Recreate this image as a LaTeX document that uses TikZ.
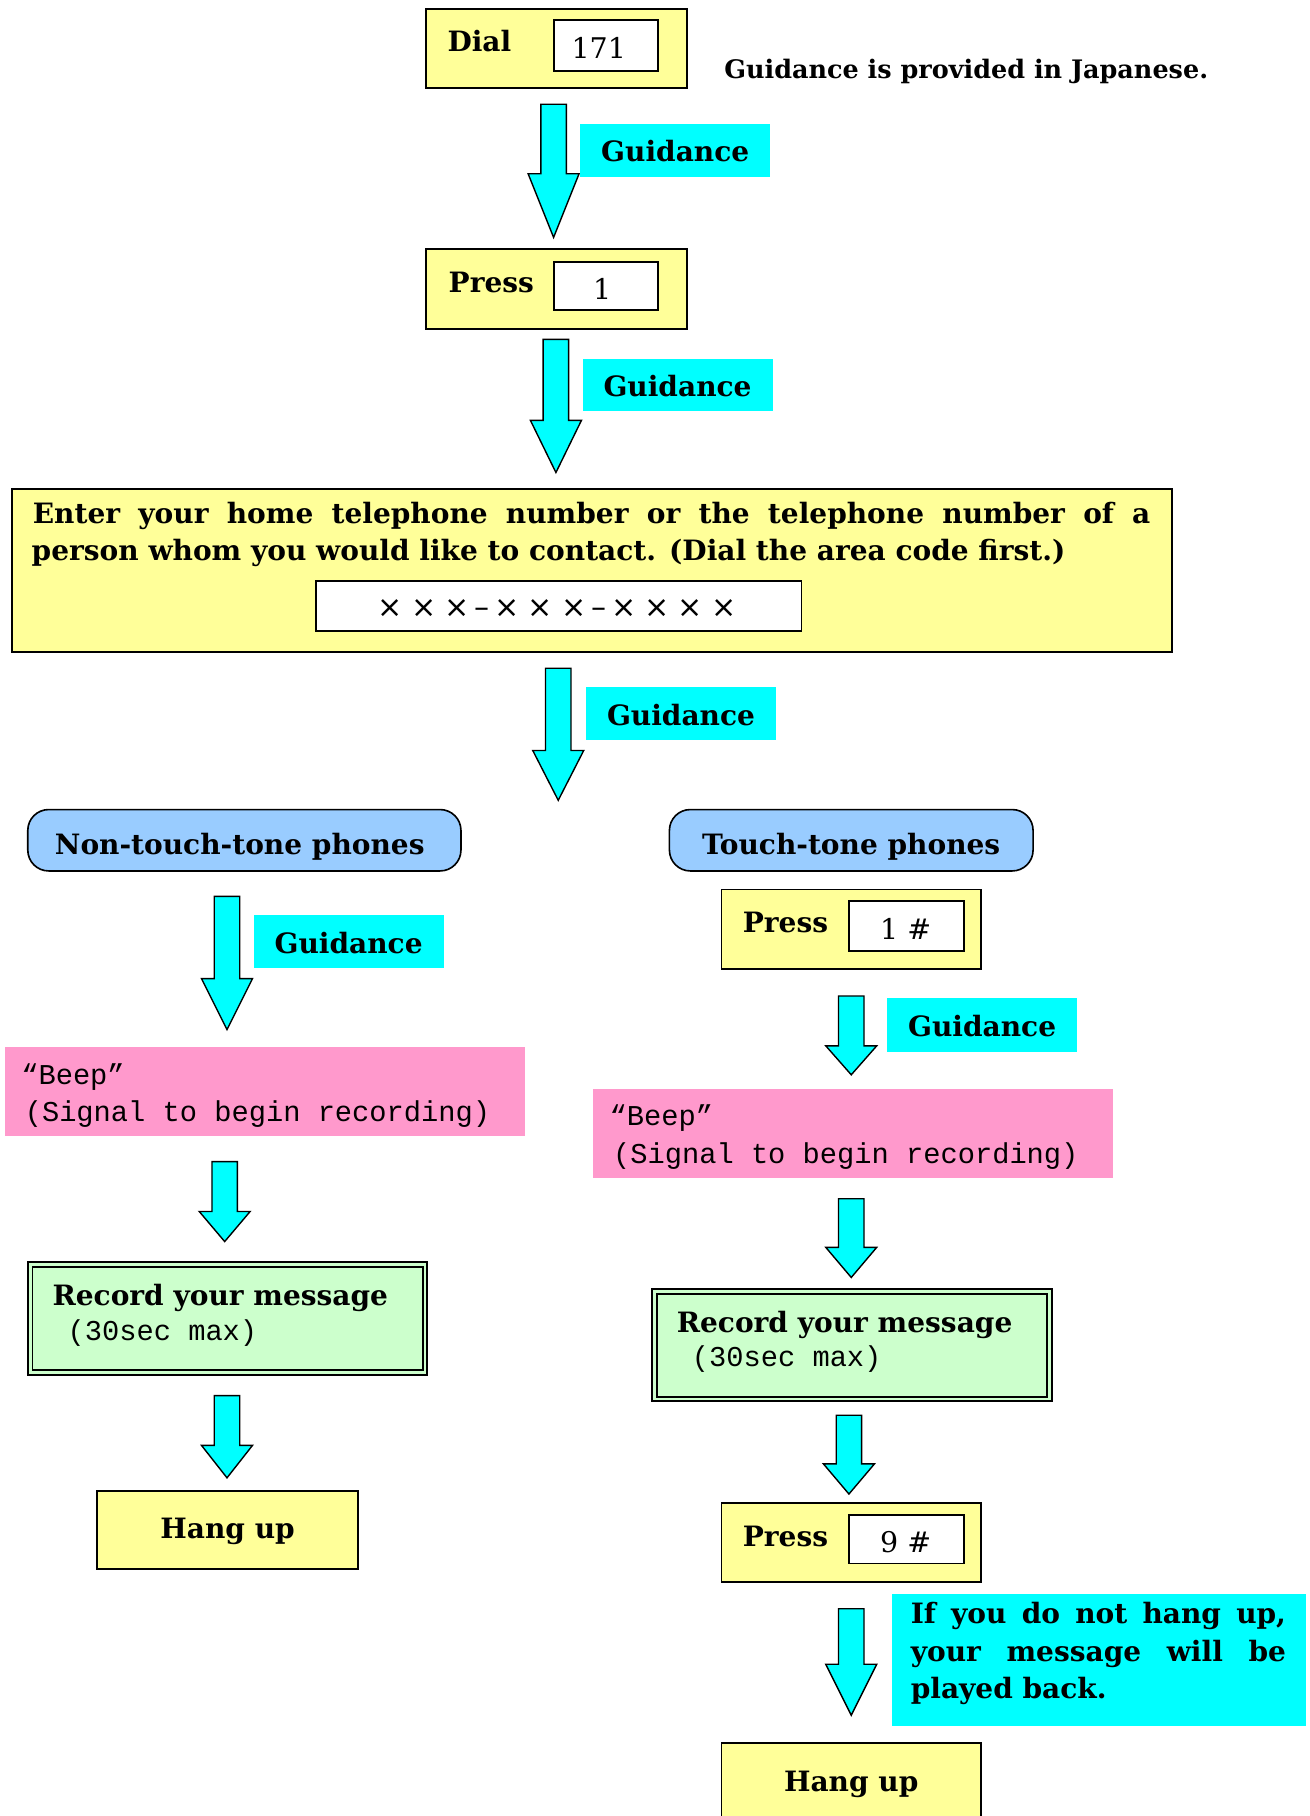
\documentclass[tikz,border=0pt]{standalone}
\usepackage{fontspec}
\setmainfont{DejaVu Serif}
\setmonofont{Liberation Mono}
\newfontfamily\symfont{DejaVu Sans}
\definecolor{ylw}{HTML}{FFFF99}
\definecolor{cyn}{HTML}{00FFFF}
\definecolor{pnk}{HTML}{FF99CC}
\definecolor{grn}{HTML}{CCFFCC}
\definecolor{blu}{HTML}{99CCFF}
\newcommand{\mainsz}{\fontsize{12.1}{15}\selectfont\bfseries}
\newcommand{\monosz}{\fontsize{12.4}{15}\selectfont\ttfamily}
\newcommand{\fw}[1]{\makebox[14.4pt]{#1}}
\newcommand{\hw}[1]{\makebox[7.2pt]{#1}}
\newcommand{\darrow}[5]{% name, cx, top, headstart, tip
  \coordinate (#1) at (#2,#5);
  \draw[garr] ({#2-11},#3) -- ({#2+11},#3) -- ({#2+11},#4) -- ({#2+22},#4)
    -- (#2,#5) -- ({#2-22},#4) -- ({#2-11},#4) -- cycle;}
\begin{document}
\begin{tikzpicture}[x=0.5pt,y=-0.5pt,
  ybox/.style={draw=black, line width=0.8pt, fill=ylw, inner sep=0pt},
  wbox/.style={draw=black, line width=0.8pt, fill=white, inner sep=0pt},
  glab/.style={fill=cyn, inner sep=0pt},
  pinkbox/.style={fill=pnk, inner sep=0pt},
  gbox/.style={draw=black, line width=0.8pt, fill=grn, inner sep=0pt},
  gin/.style={draw=black, line width=0.8pt, inner sep=0pt},
  rbox/.style={draw=black, line width=0.7pt, fill=blu, rounded corners=9pt, inner sep=0pt},
  garr/.style={draw=black, line width=0.6pt, fill=cyn},
  txt/.style={inner sep=0pt, font=\mainsz, text height=0.72em, text depth=0pt},
  ntxt/.style={inner sep=0pt, font=\fontsize{12.3}{15}\selectfont, text height=0.72em, text depth=0pt},
  mtxt/.style={inner sep=0pt, font=\monosz, text height=0.62em, text depth=0pt},
  ]
\useasboundingbox (0,0) rectangle (1131,1568);
\clip (0,0) rectangle (1131,1568);

% top: Dial
\node[ybox, minimum width=112.5pt, minimum height=34pt] (dial) at (480.5,42) {};
\node[wbox, minimum width=45pt, minimum height=22pt] (dialnum) at (523,39) {};
\node[txt, anchor=west] (dialt) at (386,37) {Dial};
\node[ntxt] (dialn) at (517,43) {171};
\node[txt, anchor=west, font=\fontsize{11}{13}\selectfont\bfseries] (note) at (625,61) {Guidance is provided in Japanese.};

\darrow{a1}{478}{90}{150}{205}
\node[glab, minimum width=82pt, minimum height=23pt] (g1) at (583,130) {};
\node[txt] (g1t) at (583,132) {Guidance};

% Press 1
\node[ybox, minimum width=112.5pt, minimum height=34.5pt] (press1) at (480.5,249.5) {};
\node[wbox, minimum width=45pt, minimum height=21pt] (press1n) at (523,247) {};
\node[txt, anchor=west] (press1t) at (387,245) {Press};
\node[ntxt] (press1k) at (520,251) {1};

\darrow{a2}{480}{293}{363}{408}
\node[glab, minimum width=82pt, minimum height=22.5pt] (g2) at (585,332.5) {};
\node[txt] (g2t) at (585,335) {Guidance};

% Enter number
\node[ybox, minimum width=501pt, minimum height=70.5pt] (enter) at (511,492.5) {};
\node[txt, anchor=west] (enter1) at (28,445) {\makebox[482.5pt][s]{Enter your home telephone number or the telephone number of a}};
\node[txt, anchor=west] (enter2) at (27,477) {person whom you would like to contact. (Dial the area code first.)};
\node[wbox, minimum width=209.5pt, minimum height=21.5pt] (phone) at (482.5,523.5) {};
\node[inner sep=0pt, font=\symfont\fontsize{13}{15}\selectfont] (phonet) at (481,525) {\fw{×}\fw{×}\fw{×}\hw{–}\fw{×}\fw{×}\fw{×}\hw{–}\fw{×}\fw{×}\fw{×}\fw{×}};

\darrow{a3}{482}{577}{648}{691}
\node[glab, minimum width=82pt, minimum height=23pt] (g3) at (588,616) {};
\node[txt] (g3t) at (588,619) {Guidance};

% branches
\node[rbox, minimum width=187pt, minimum height=26.5pt] (ntt) at (211,725.5) {};
\node[txt] (nttt) at (207,731) {Non-touch-tone phones};
\node[rbox, minimum width=157pt, minimum height=26.5pt] (tt) at (735,725.5) {};
\node[txt] (ttt) at (735,731) {Touch-tone phones};

% left column
\darrow{l1}{196}{774}{845}{889}
\node[glab, minimum width=82pt, minimum height=23pt] (gl) at (301,813) {};
\node[txt] (glt) at (301,816) {Guidance};

\node[pinkbox, minimum width=224.5pt, minimum height=38.5pt] (beepl) at (228.5,942.5) {};
\node[mtxt, anchor=west] (beepl1) at (18,930) {“Beep”};
\node[mtxt, anchor=west] (beepl2) at (21,962) {(Signal to begin recording)};

\darrow{l2}{194}{1003}{1046}{1072}

\node[gbox, minimum width=172.5pt, minimum height=48.5pt] (recl) at (196.5,1138.5) {};
\node[gin, minimum width=168.5pt, minimum height=44.5pt] (recli) at (196.5,1138.5) {};
\node[txt, anchor=west] (recl1) at (45,1120) {Record your message};
\node[mtxt, anchor=west] (recl2) at (58,1151) {(30sec max)};

\darrow{l3}{196}{1205}{1248}{1276}

\node[ybox, minimum width=112.5pt, minimum height=34pt] (hangl) at (196.5,1321) {};
\node[txt] (hanglt) at (196.5,1321) {Hang up};

% right column
\node[ybox, minimum width=112pt, minimum height=34.5pt] (p1h) at (735,802.5) {};
\node[wbox, minimum width=49.5pt, minimum height=21.5pt] (p1hn) at (782.5,799.5) {};
\node[txt, anchor=west] (p1ht) at (641,798) {Press};
\node[ntxt] (p1hk) at (782,804) {1 \#};

\darrow{r1}{735}{860}{903}{928}
\node[glab, minimum width=82pt, minimum height=23pt] (gr) at (848,885) {};
\node[txt] (grt) at (848,888) {Guidance};

\node[pinkbox, minimum width=224.5pt, minimum height=38.5pt] (beepr) at (736.5,978.5) {};
\node[mtxt, anchor=west] (beepr1) at (526,966) {“Beep”};
\node[mtxt, anchor=west] (beepr2) at (529,998) {(Signal to begin recording)};

\darrow{r2}{735}{1035}{1077}{1103}

\node[gbox, minimum width=172.5pt, minimum height=48.5pt] (recr) at (735.5,1161.5) {};
\node[gin, minimum width=168.5pt, minimum height=44.5pt] (recri) at (735.5,1161.5) {};
\node[txt, anchor=west] (recr1) at (584,1143) {Record your message};
\node[mtxt, anchor=west] (recr2) at (597,1174) {(30sec max)};

\darrow{r3}{733}{1222}{1264}{1290}

\node[ybox, minimum width=112pt, minimum height=34pt] (p9h) at (735,1332) {};
\node[wbox, minimum width=49.5pt, minimum height=21pt] (p9hn) at (782.5,1329) {};
\node[txt, anchor=west] (p9ht) at (641,1328) {Press};
\node[ntxt] (p9hk) at (782,1333) {9 \#};

\darrow{r4}{735}{1389}{1437}{1481}
\node[glab, minimum width=179pt, minimum height=57pt] (noteb) at (949,1433) {};
\node[txt, anchor=west] (n1) at (786,1395) {\makebox[162pt][s]{If you do not hang up,}};
\node[txt, anchor=west] (n2) at (786,1427) {\makebox[162pt][s]{your message will be}};
\node[txt, anchor=west] (n3) at (786,1459) {played back.};

\node[ybox, minimum width=112pt, minimum height=34.5pt] (hangr) at (735,1539.5) {};
\node[txt] (hangrt) at (735,1540) {Hang up};
\end{tikzpicture}
\end{document}
